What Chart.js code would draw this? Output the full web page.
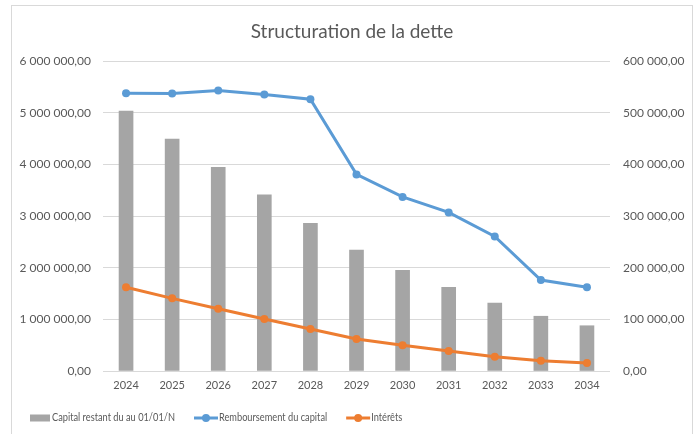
<!DOCTYPE html>
<html>
<head>
<meta charset="utf-8">
<script src="https://cdn.jsdelivr.net/npm/chart.js@4.4.0/dist/chart.umd.min.js"></script>
<style>
  html, body { margin: 0; padding: 0; background: #ffffff; overflow: hidden; width: 696px; height: 434px; }
  #box { position: absolute; left: 11px; top: 5px; width: 680px; height: 440px; border: 1px solid #d9d9d9; background: #fff; }
  canvas { position: absolute; left: 0; top: 0; }
</style>
</head>
<body>
<div id="box"><canvas id="c" width="680" height="428"></canvas></div>
<script>
const categories = ['2024','2025','2026','2027','2028','2029','2030','2031','2032','2033','2034'];
const capitalRestant = [5030000, 4490000, 3940000, 3410000, 2860000, 2340000, 1950000, 1620000, 1315000, 1060000, 876000];
const remboursement = [537700, 537000, 543000, 535000, 526000, 380500, 337000, 307000, 260500, 176000, 162000];
const interets = [162000, 140600, 120500, 100600, 81200, 61900, 49700, 38700, 27700, 19900, 15500];
const seriesNames = ['Capital restant du au 01/01/N', 'Remboursement du capital', 'Intérêts'];
const chartTitle = 'Structuration de la dette';

const FONT = 'Lato, "Liberation Sans", sans-serif';
const TXT = '#595959';
const GRID = '#d9d9d9';
const GREY = '#A5A5A5', BLUE = '#5B9BD5', ORANGE = '#ED7D31';

function fmt(v) {
  const n = Math.round(v);
  const s = String(Math.abs(n)).replace(/\B(?=(\d{3})+(?!\d))/g, ' ');
  return (n < 0 ? '-' : '') + s + ',00';
}

const legendPlugin = {
  id: 'customLegend',
  afterDraw(chart) {
    const ctx = chart.ctx;
    ctx.save();
    ctx.font = '10.5px ' + FONT;
    ctx.textBaseline = 'middle';
    const y = 412;
    const sx = 0.88;
    let x = 18;
    const order = [2, 0, 1];
    order.forEach((idx) => {
      const ds = chart.data.datasets[idx];
      if (ds.type === 'bar') {
        ctx.fillStyle = ds.backgroundColor;
        ctx.fillRect(x, y - 3.5, 20, 7);
        x += 22;
      } else {
        ctx.strokeStyle = ds.borderColor;
        ctx.lineWidth = 3;
        ctx.beginPath(); ctx.moveTo(x, y); ctx.lineTo(x + 24, y); ctx.stroke();
        ctx.fillStyle = ds.borderColor;
        ctx.beginPath(); ctx.arc(x + 12, y, 4, 0, Math.PI * 2); ctx.fill();
        x += 25;
      }
      ctx.fillStyle = TXT;
      ctx.textAlign = 'left';
      ctx.save();
      ctx.translate(x, y);
      ctx.scale(sx, 1);
      ctx.fillText(ds.label, 0, 0);
      ctx.restore();
      x += ctx.measureText(ds.label).width * sx + 19;
    });
    ctx.restore();
  }
};

new Chart(document.getElementById('c'), {
  data: {
    labels: categories,
    datasets: [
      { type: 'line', label: seriesNames[1], data: remboursement, yAxisID: 'y1',
        borderColor: BLUE, backgroundColor: BLUE, borderWidth: 3,
        pointRadius: 4, pointBorderWidth: 0, pointBackgroundColor: BLUE, order: 1, tension: 0 },
      { type: 'line', label: seriesNames[2], data: interets, yAxisID: 'y1',
        borderColor: ORANGE, backgroundColor: ORANGE, borderWidth: 3,
        pointRadius: 4, pointBorderWidth: 0, pointBackgroundColor: ORANGE, order: 0, tension: 0 },
      { type: 'bar', label: seriesNames[0], data: capitalRestant, yAxisID: 'y',
        backgroundColor: GREY, barThickness: 14, order: 5 }
    ]
  },
  options: {
    responsive: false,
    animation: false,
    devicePixelRatio: 1,
    layout: { padding: { top: 55, bottom: 37, left: 0, right: 0 } },
    plugins: {
      legend: { display: false },
      tooltip: { enabled: false },
      title: { display: false }
    },
    scales: {
      x: {
        grid: { display: false, drawTicks: false },
        border: { display: false },
        ticks: { color: TXT, font: { family: FONT, size: 11 }, padding: 8, maxRotation: 0 },
        afterFit(s) { s.height = 26; }
      },
      y: {
        position: 'left',
        min: 0, max: 6000000,
        ticks: { stepSize: 1000000, color: TXT, font: { family: FONT, size: 12 }, padding: 12, callback: v => fmt(v) },
        grid: { color: GRID, lineWidth: 1, drawTicks: false },
        border: { display: false },
        afterFit(s) { s.width = 91; }
      },
      y1: {
        position: 'right',
        min: 0, max: 600000,
        ticks: { stepSize: 100000, color: TXT, font: { family: FONT, size: 12 }, padding: 13, callback: v => fmt(v) },
        grid: { display: false, drawTicks: false },
        border: { display: false },
        afterFit(s) { s.width = 82; }
      }
    }
  },
  plugins: [legendPlugin, {
    id: 'titleDraw',
    afterDraw(chart) {
      const ctx = chart.ctx;
      ctx.save();
      ctx.font = '19px ' + FONT;
      ctx.fillStyle = TXT;
      ctx.textAlign = 'center';
      ctx.textBaseline = 'middle';
      ctx.fillText(chartTitle, 340, 26);
      ctx.restore();
    }
  }]
});
</script>
</body>
</html>
